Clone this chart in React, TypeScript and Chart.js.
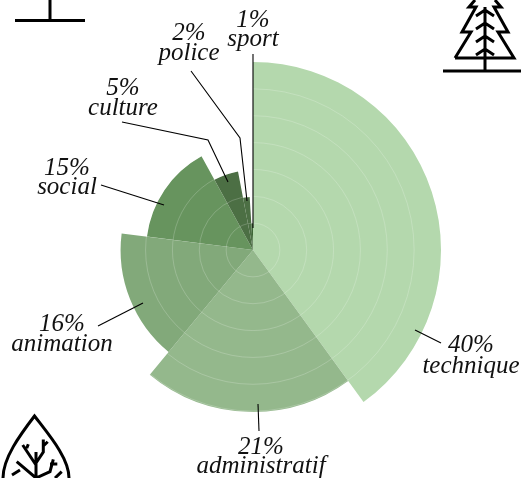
import React, { useEffect, useRef } from "react";
import { Chart, registerables } from "chart.js";

Chart.register(...registerables);

const categories = ["technique", "administratif", "animation", "social", "culture", "police", "sport"];
const shares = [40, 21, 16, 15, 5, 2, 1];
const ranks = [7, 6.03, 4.93, 3.98, 2.98, 1.98, 1];
const colors = ["#b4d8ad", "#94b88c", "#82a97a", "#67945e", "#4c6f44", "#4c6f44", "#3f6637"];

const labelPlaces: [number, number, number][] = [
  [471, 352, 373],
  [261, 454, 473],
  [62, 331, 351],
  [67, 175, 194],
  [123, 95, 115],
  [189, 40, 60],
  [253, 27, 46],
];
const leaders: [number, number][][] = [
  [[415, 330], [441, 343]],
  [[258, 404], [259, 431]],
  [[98, 326], [143, 303]],
  [[101, 185], [164, 205]],
  [[122, 122], [208, 140], [228, 182]],
  [[191, 71], [240, 138], [247, 201]],
  [[253, 54], [253, 228]],
];

const icons = [
  "M15 20.5H85M50 0V20.5",
  "M443 71H521M485 7V71M455 58H514L498 32H508L494 7H501L495 0M455 58L471 32H462L476 7H469L475 0M476 16L485 10L494 16M476 29L485 23L494 29M476 42L485 36L494 42M476 55L485 49L494 55",
  "M3 478C3 458 20 435 34.5 416C49 435 69 458 69 478M36 452V478M36 465L22.7 445M26.7 448.3L28.3 444.3M36 463L43.3 452V439.5M43.3 446L47.7 441.7M36 478L16.7 461.7M12 475L20 470M36 478L50 471.7L53.3 459.3M50 464L57.3 464M55 478L61.7 471.7",
];

const overlay = {
  id: "overlay",
  afterDraw(chart: Chart) {
    const c = chart.ctx;
    c.save();
    c.strokeStyle = "#000";
    c.lineWidth = 1.1;
    leaders.forEach((pts) => {
      c.beginPath();
      pts.forEach(([x, y], i) => (i ? c.lineTo(x, y) : c.moveTo(x, y)));
      c.stroke();
    });
    c.lineWidth = 3;
    c.lineJoin = "miter";
    icons.forEach((d) => c.stroke(new Path2D(d)));
    c.fillStyle = "#111";
    c.font = "italic 25px 'Liberation Serif'";
    c.textAlign = "center";
    c.textBaseline = "alphabetic";
    categories.forEach((name, i) => {
      const [x, y1, y2] = labelPlaces[i];
      c.fillText(`${shares[i]}%`, x, y1);
      c.fillText(name, x, y2);
    });
    c.restore();
  },
};

export default function App() {
  const ref = useRef<HTMLCanvasElement>(null);
  useEffect(() => {
    const chart = new Chart(ref.current!, {
      type: "polarArea",
      data: {
        labels: categories,
        datasets: [
          {
            data: ranks,
            backgroundColor: colors,
            borderWidth: 0,
            angle: (ctx: any) => shares[ctx.dataIndex] * 3.6,
          } as any,
        ],
      },
      options: {
        animation: false,
        responsive: false,
        layout: { padding: { top: 62, bottom: 40, left: 65, right: 80 } },
        plugins: { legend: { display: false }, tooltip: { enabled: false } },
        scales: {
          r: {
            min: 0,
            max: 7,
            ticks: { display: false, stepSize: 1 },
            pointLabels: { display: false },
            angleLines: { display: false },
            grid: {
              z: 1,
              lineWidth: 0.8,
              color: (ctx: any) => (ctx.tick && ctx.tick.value === 7 ? "rgba(255,255,255,0)" : "rgba(255,255,255,0.25)"),
            },
          },
        },
      } as any,
      plugins: [overlay],
    });
    return () => chart.destroy();
  }, []);
  return <canvas ref={ref} width={521} height={478} style={{ position: "absolute", left: 0, top: 0 }} />;
}
